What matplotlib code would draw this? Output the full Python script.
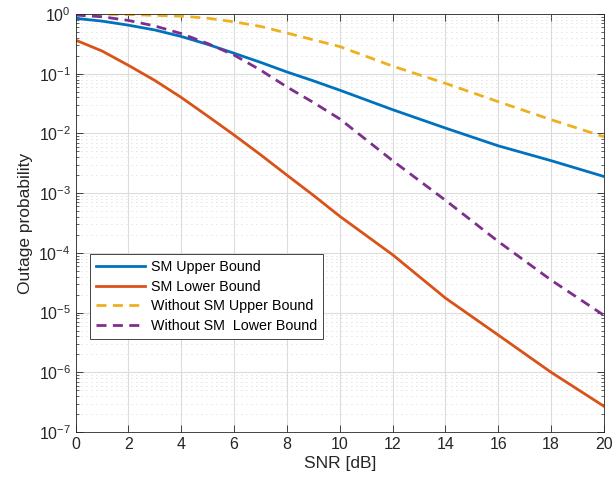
import matplotlib
matplotlib.use("Agg")
import matplotlib.pyplot as plt
from matplotlib.ticker import LogLocator, NullFormatter, FixedLocator

plt.rcParams["font.family"] = ["Liberation Sans", "DejaVu Sans"]
plt.rcParams["mathtext.fontset"] = "custom"
plt.rcParams["mathtext.rm"] = "Liberation Sans"
plt.rcParams["mathtext.it"] = "Liberation Sans:italic"
plt.rcParams["mathtext.bf"] = "Liberation Sans:bold"

# SNR points (dB)
snr_fine = [0, 1, 2, 3, 4, 5, 6, 7, 8, 9, 10, 12, 14, 16, 18, 20]

sm_upper = [0.845, 0.76, 0.65, 0.54, 0.42, 0.31, 0.22, 0.155, 0.107, 0.076,
            0.053, 0.025, 0.0123, 0.0062, 0.0035, 0.0019]
sm_lower = [0.365, 0.24, 0.138, 0.077, 0.04, 0.0195, 0.0094, 0.0044, 0.002,
            9.2e-4, 4.1e-4, 9.3e-5, 1.75e-5, 4.2e-6, 1.0e-6, 2.7e-7]
nosm_upper = [1.0, 0.99, 0.98, 0.95, 0.92, 0.85, 0.74, 0.62, 0.48, 0.37,
              0.285, 0.134, 0.069, 0.034, 0.017, 0.0088]
nosm_lower = [0.96, 0.9, 0.78, 0.63, 0.47, 0.32, 0.205, 0.115, 0.06, 0.033,
              0.0175, 0.0035, 7.6e-4, 1.55e-4, 3.5e-5, 9e-6]

labels = ["SM Upper Bound", "SM Lower Bound",
          "Without SM Upper Bound", "Without SM  Lower Bound"]
colors = ["#0072BD", "#D95319", "#EDB120", "#7E2F8E"]

fig = plt.figure(figsize=(6.15, 4.83), dpi=100)
ax = fig.add_axes([0.123, 0.1056, 0.859, 0.8654])

dash = (0, (3.6, 2.3))
ax.semilogy(snr_fine, sm_upper, color=colors[0], lw=2, label=labels[0])
ax.semilogy(snr_fine, sm_lower, color=colors[1], lw=2, label=labels[1])
ax.semilogy(snr_fine, nosm_upper, color=colors[2], lw=2, ls=dash, label=labels[2])
ax.semilogy(snr_fine, nosm_lower, color=colors[3], lw=2, ls=dash, label=labels[3])

ax.set_xlim(0, 20)
ax.set_ylim(1e-7, 1)
ax.xaxis.set_major_locator(FixedLocator(range(0, 21, 2)))
ax.yaxis.set_major_locator(LogLocator(base=10, numticks=10))
ax.yaxis.set_minor_locator(LogLocator(base=10, subs=range(2, 10), numticks=20))
ax.yaxis.set_minor_formatter(NullFormatter())
ax.xaxis.offsetText.set_visible(False)
ax.yaxis.offsetText.set_visible(False)

ax.grid(True, which="major", color="#dcdcdc", lw=0.8, ls="-")
ax.grid(True, which="minor", axis="y", color="#c8c8c8", lw=0.6, ls=(0, (1, 5)))
ax.set_axisbelow(True)

ax.tick_params(which="both", direction="in", top=True, right=True,
               colors="#262626", labelsize=11.5)
ax.tick_params(which="major", length=5, width=0.6)
ax.tick_params(which="minor", length=2.5, width=0.5)
for s in ax.spines.values():
    s.set_color("#262626")
    s.set_linewidth(0.6)

ax.set_xlabel("SNR [dB]", fontsize=12.5, color="#262626", labelpad=3)
ax.set_ylabel("Outage probability", fontsize=12.5, color="#262626", labelpad=4)

leg = ax.legend(loc="upper left", bbox_to_anchor=(0.027, 0.426), fontsize=10.3,
                frameon=True, fancybox=False, framealpha=1, edgecolor="#262626",
                handlelength=3.4, handletextpad=0.4, labelspacing=0.38,
                borderpad=0.45, borderaxespad=0)
leg.get_frame().set_linewidth(0.6)

fig.savefig("out.png", dpi=100)
